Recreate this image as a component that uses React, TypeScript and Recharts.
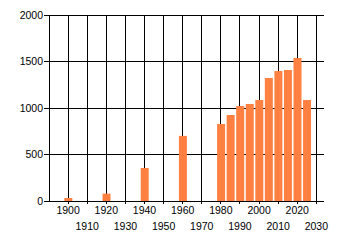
import React from "react";
import { BarChart, Bar, XAxis, YAxis, CartesianGrid } from "recharts";

const years = [1900, 1920, 1940, 1960, 1980, 1985, 1990, 1995, 2000, 2005, 2010, 2015, 2020, 2025];
const values = [32, 79, 355, 700, 828, 925, 1021, 1043, 1086, 1323, 1398, 1409, 1538, 1086];
const xTicks = [1900, 1910, 1920, 1930, 1940, 1950, 1960, 1970, 1980, 1990, 2000, 2010, 2020, 2030];
const yTicks = [0, 500, 1000, 1500, 2000];

const data = years.map((y, i) => ({ year: y, value: values[i] }));

const FONT = "'Liberation Sans', Arial, sans-serif";

const XTick = (props: any) => {
  const { x, y, payload } = props;
  const v = payload.value as number;
  const second = Math.round(v / 10) % 2 === 1;
  return (
    <text
      x={x}
      y={y + (second ? 24 : 8)}
      textAnchor="middle"
      fontFamily={FONT}
      fontSize={10.5}
      fill="#000"
    >
      {v}
    </text>
  );
};

export default function App() {
  return (
    <div style={{ position: "absolute", left: 0, top: 0, background: "#fff" }}>
      <BarChart
        width={340}
        height={245}
        data={data}
        margin={{ top: 15, right: 16, bottom: 14, left: 0 }}
      >
        <CartesianGrid
          stroke="#000"
          strokeWidth={1}
          verticalValues={xTicks}
          horizontalValues={yTicks}
          shapeRendering="crispEdges"
        />
        <XAxis
          dataKey="year"
          type="number"
          domain={[1890, 2034]}
          ticks={xTicks}
          allowDataOverflow
          interval={0}
          height={30}
          tickSize={3}
          tickMargin={2}
          stroke="#000"
          axisLine={{ stroke: "#000", shapeRendering: "crispEdges" }}
          tickLine={{ stroke: "#000", shapeRendering: "crispEdges" }}
          tick={<XTick />}
        />
        <YAxis
          type="number"
          domain={[0, 2000]}
          ticks={yTicks}
          width={49}
          tickSize={5}
          tickMargin={1}
          interval={0}
          axisLine={{ stroke: "#000", shapeRendering: "crispEdges" }}
          tickLine={{ stroke: "#000", shapeRendering: "crispEdges" }}
          tick={{ fill: "#000", fontFamily: FONT, fontSize: 10.5 }}
        />
        <Bar dataKey="value" fill="#ff8040" barSize={8} isAnimationActive={false} />
      </BarChart>
    </div>
  );
}
